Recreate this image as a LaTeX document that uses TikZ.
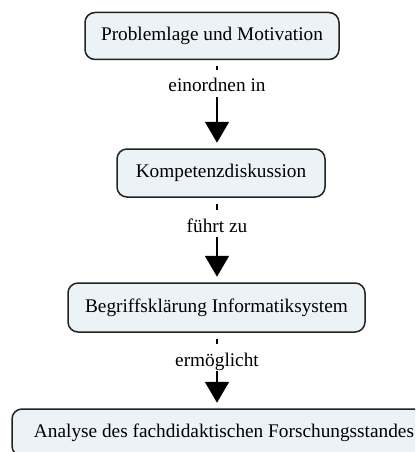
\documentclass[tikz,border=0pt]{standalone}
\usepackage{fontspec}
\setmainfont{Liberation Serif}
\usetikzlibrary{arrows.meta}
\definecolor{boxfill}{RGB}{236,243,246}
\definecolor{boxline}{RGB}{34,34,34}
\tikzset{
  stage/.style={draw=boxline, line width=1.5pt, fill=boxfill, rounded corners=10pt,
    inner sep=0pt, minimum height=47pt, text height=13pt, text depth=4pt,
    font=\fontsize{19.3}{22}\selectfont},
  rel/.style={inner xsep=2pt, inner ysep=5pt, text height=17pt, text depth=0pt,
    font=\fontsize{19.3}{22}\selectfont},
  linkin/.style={line width=2pt, shorten <=6pt},
  linkout/.style={line width=2pt, shorten >=5.5pt,
    -{Triangle[width=24pt,length=21pt]}}
}
\begin{document}
\begin{tikzpicture}[x=1pt,y=-1pt]
  \useasboundingbox (0,0) rectangle (415,452);
  \begin{scope}
    \clip (0,0) rectangle (415,452);
    % process steps
    \node[stage, minimum width=254pt] (p1) at (212,36) {Problemlage und Motivation};
    \node[stage, minimum width=208pt, minimum height=48pt] (p2) at (221,173) {Kompetenzdiskussion};
    \node[stage, minimum width=297pt, minimum height=49pt] (p3) at (216.5,307.5) {Begriffsklärung Informatiksystem};
    \node[stage, minimum width=424pt] (p4) at (224,432.5) {Analyse des fachdidaktischen Forschungsstandes};
    % relation labels
    \node[rel] (r1) at (217,83.5) {einordnen in};
    \node[rel] (r2) at (217,223.5) {führt zu};
    \node[rel] (r3) at (217,357.5) {ermöglicht};
    % connectors
    \draw[linkin] (p1.south -| r1) -- (r1.north);
    \draw[linkout] (r1.south) -- (p2.north -| r1);
    \draw[linkin] (p2.south -| r2) -- (r2.north);
    \draw[linkout] (r2.south) -- (p3.north -| r2);
    \draw[linkin] (p3.south -| r3) -- (r3.north);
    \draw[linkout] (r3.south) -- (p4.north -| r3);
  \end{scope}
\end{tikzpicture}
\end{document}
